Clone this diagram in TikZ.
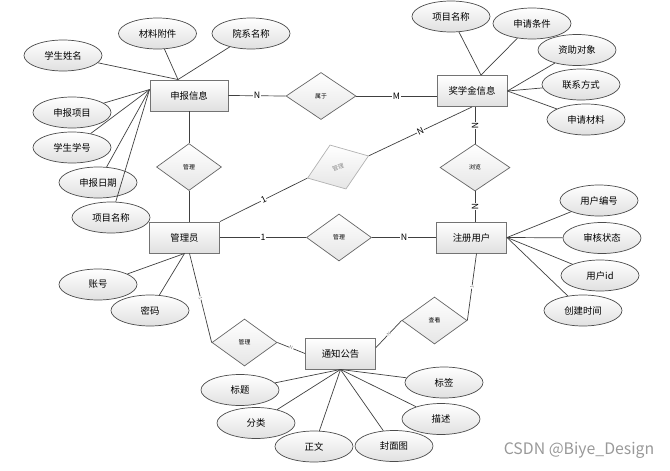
\documentclass[tikz,border=0pt]{standalone}
\usepackage{fontspec}
\setmainfont{Noto Sans CJK SC}
\usepackage{xcolor}
\usepackage{tikz}
\usetikzlibrary{shapes.geometric}
\usetikzlibrary{shadows}
\usetikzlibrary{positioning}
\definecolor{linecol}{HTML}{404040}
\tikzset{%
  entbox/.style={rectangle,draw=black!55,line width=0.8pt,top color=white,bottom color=black!12,minimum width=2.1cm,minimum height=0.93cm,inner sep=0pt,font=\fontsize{8}{10}\selectfont,drop shadow={shadow xshift=0.5pt,shadow yshift=-0.5pt,opacity=0.25}},
  attrell/.style={ellipse,draw=black!70,line width=0.6pt,top color=white,bottom color=black!12,minimum width=2.34cm,minimum height=0.93cm,inner sep=0pt,font=\fontsize{8}{10}\selectfont},
  reldia/.style={diamond,draw=black!60,line width=0.6pt,top color=white,bottom color=black!10,minimum width=1.95cm,minimum height=1.41cm,inner sep=0pt,font=\fontsize{5}{6}\selectfont},
  conn/.style={draw=linecol,line width=0.6pt},
  cardlab/.style={fill=white,inner sep=0.5pt,font=\fontsize{7.5}{9}\selectfont},
  cardsm/.style={fill=white,inner sep=0.3pt,font=\fontsize{4}{5}\selectfont,text=black!50,sloped}
}
\newcommand\faintcol{black!30}

\begin{document}
\begin{tikzpicture}[x=0.03cm,y=-0.03cm]
            \useasboundingbox (0,0) rectangle (670,470);
            \node[entbox,minimum width=2.34cm](sbxx) at (189,95.5){申报信息};
            \node[entbox](jxj) at (472,91){奖学金信息};
            \node[entbox](gly) at (184.5,237.5){管理员};
            \node[entbox](zcyh) at (471.5,237.5){注册用户};
            \node[entbox](tzgg) at (340.5,353.5){通知公告};
            \node[reldia,minimum width=2.1cm](sy) at (321,96){属于};
            \node[reldia](glA) at (189,167){管理};
            \node[reldia,draw=\faintcol,text=black!45,rotate=20](glB) at (338,167){管理};
            \node[reldia,minimum width=2.1cm](ll) at (475,167.5){浏览};
            \node[reldia](glC) at (339,237.5){管理};
            \node[reldia](ck) at (434.5,320.5){查看};
            \node[reldia](glD) at (244.5,342.5){管理};
            \node[attrell](xsxm) at (63,55.5){学生姓名};
            \node[attrell](clfj) at (157.5,33.5){材料附件};
            \node[attrell](yxmc) at (251,33.5){院系名称};
            \node[attrell](sbxm) at (72,112.5){申报项目};
            \node[attrell](xsxh) at (72,147.5){学生学号};
            \node[attrell](sbrq) at (98,182.5){申报日期};
            \node[attrell](xmmcA) at (111,217.5){项目名称};
            \node[attrell](xmmcB) at (451,16.5){项目名称};
            \node[attrell](sqtj) at (532,23.5){申请条件};
            \node[attrell](zzdx) at (577,50){资助对象};
            \node[attrell](lxfs) at (581,84.5){联系方式};
            \node[attrell](sqcl) at (586,119.5){申请材料};
            \node[attrell](yhbh) at (599,200.5){用户编号};
            \node[attrell](shzt) at (602,238){审核状态};
            \node[attrell](yhid) at (600,275.5){用户id};
            \node[attrell](cjsj) at (583,310.5){创建时间};
            \node[attrell](zh) at (98,284.5){账号};
            \node[attrell](mm) at (150,310.5){密码};
            \node[attrell](bt) at (240,390){标题};
            \node[attrell](fl) at (256,423){分类};
            \node[attrell](zw) at (314,446.5){正文};
            \node[attrell](fmt) at (394,446){封面图};
            \node[attrell](ms) at (441,419){描述};
            \node[attrell](bq) at (444,382.5){标签};
            \coordinate (sbxxT) at ([xshift=-0.33cm]sbxx.north);
            \coordinate (sbxxL) at ([yshift=-0.3cm]sbxx.north west);
            \coordinate (jxjT) at ([xshift=0.27cm]jxj.north);
            \foreach \a in {xsxm,clfj,yxmc} \draw[conn] (\a) -- (sbxxT);
            \foreach \a in {sbxm,xsxh,sbrq,xmmcA} \draw[conn] (\a) -- (sbxxL);
            \foreach \a in {xmmcB,sqtj} \draw[conn] (\a) -- (jxjT);
            \foreach \a in {zzdx,lxfs,sqcl} \draw[conn] (\a) -- (jxj.east);
            \foreach \a in {yhbh,shzt,yhid,cjsj} \draw[conn] (\a) -- (zcyh.east);
            \foreach \a in {zh,mm} \draw[conn] (\a) -- (gly.south);
            \foreach \a in {bt,fl,zw,fmt,ms,bq} \draw[conn] (\a) -- (tzgg.south);
            \draw[conn] (sbxx.east) -- node[cardlab]{N} (sy.west);
            \draw[conn] (sy.east) -- node[cardlab]{M} (sy.east -| jxj.west);
            \draw[conn] (glA.north |- sbxx.south) -- (glA.north);
            \draw[conn] (glA.south) -- (glA.south |- gly.north);
            \draw[conn] (gly.north east) -- node[cardlab,sloped]{1} (glB.west);
            \draw[conn] (glB.east) -- node[cardlab,sloped]{N} (jxj.south);
            \draw[conn] (ll.north |- jxj.south) -- node[cardlab,sloped]{N} (ll.north);
            \draw[conn] (ll.south) -- node[cardlab,sloped]{N} (ll.south |- zcyh.north);
            \draw[conn] (gly.east) -- node[cardlab]{1} (glC.west);
            \draw[conn] (glC.east) -- node[cardlab]{N} (zcyh.west);
            \draw[conn] ([xshift=0.15cm]gly.south) -- node[cardsm]{1} (glD.west);
            \draw[conn] (glD.east) -- node[cardsm]{N} (tzgg.west);
            \draw[conn] ([xshift=0.15cm]zcyh.south) -- node[cardsm]{1} (ck.east);
            \draw[conn] (ck.west) -- node[cardsm]{N} ([yshift=-0.3cm]tzgg.north east);
            \node[text=black!40,font=\fontsize{13.5}{16}\selectfont](wmark) at (579,450){CSDN @Biye\_Design};
        \end{tikzpicture}
\end{document}
